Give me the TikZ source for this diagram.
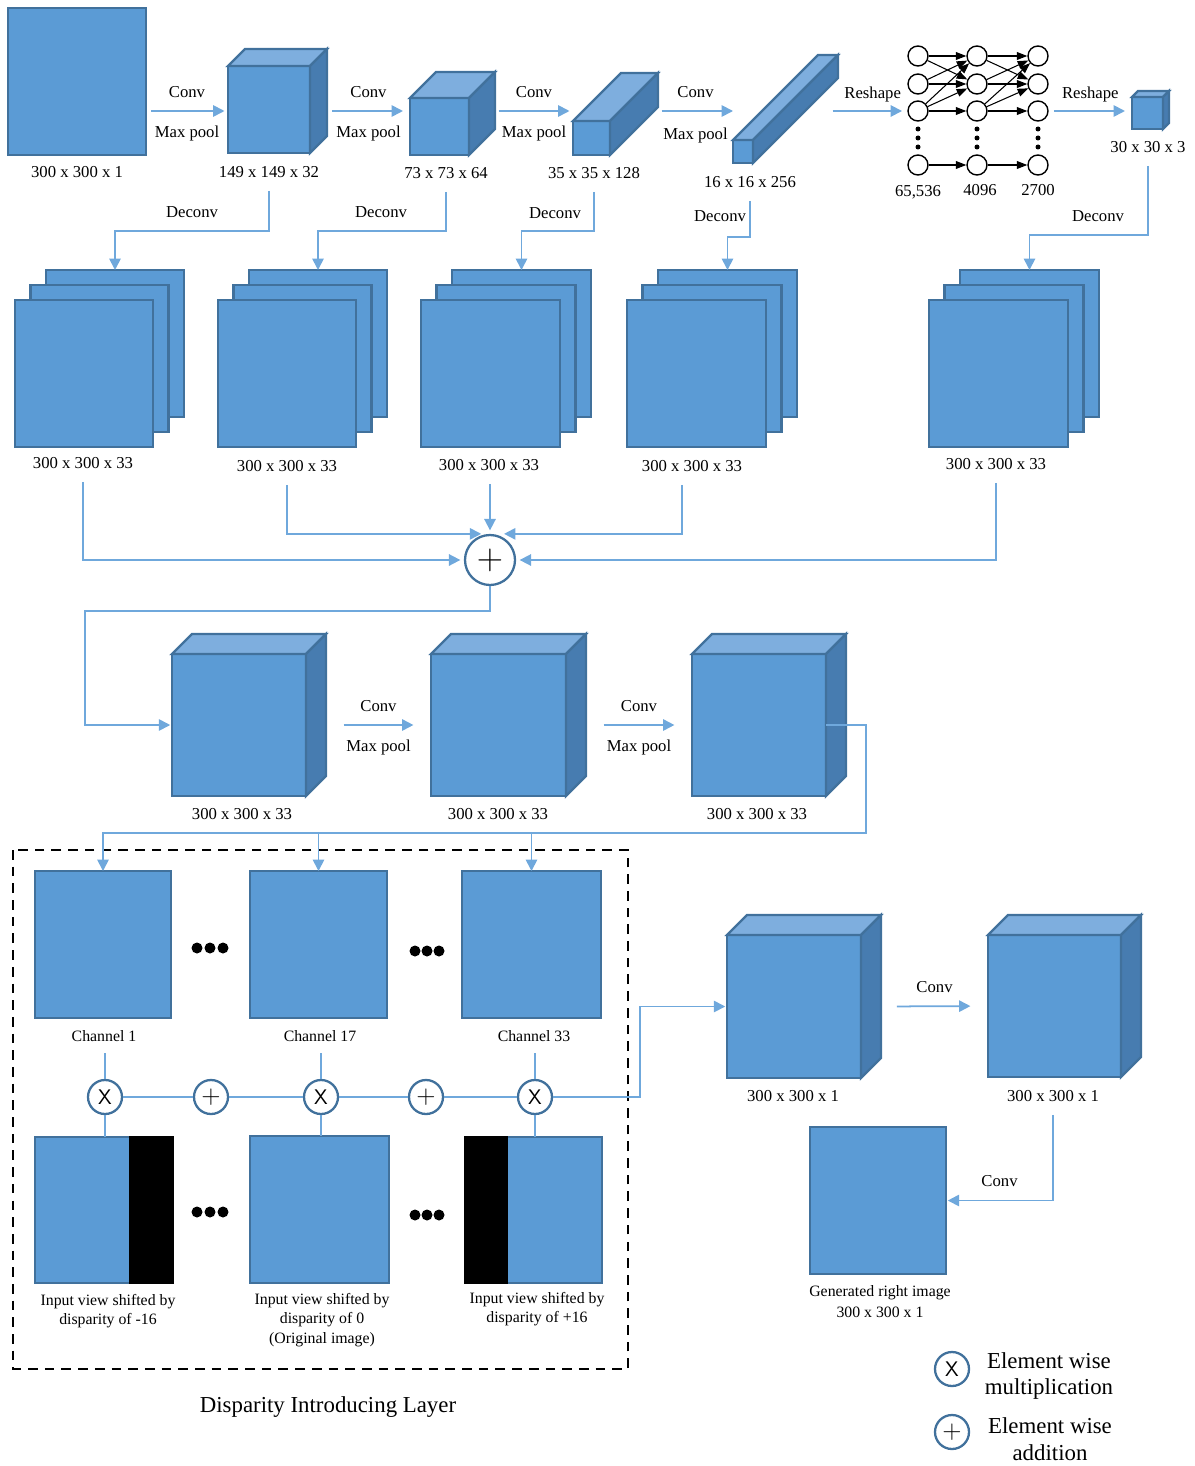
\documentclass[tikz,border=0pt]{standalone}
\usepackage{fontspec}
\setmainfont{Liberation Serif}
\usetikzlibrary{arrows.meta}
\definecolor{fblue}{HTML}{5B9BD5}
\definecolor{eblue}{HTML}{41719C}
\definecolor{tblue}{HTML}{7EAEDE}
\definecolor{sblue}{HTML}{477CB0}
\definecolor{lblue}{HTML}{6FA8DC}
\newcommand{\netsquare}[5]{%
  \node[face, anchor=north west, minimum width=#4*0.02cm, minimum height=#5*0.02cm] (#1) at (#2,#3) {};}
\newcommand{\netcube}[6]{%
  \netsquare{#1}{#2}{#3}{#4}{#5}
  \filldraw[face, fill=tblue] (#1.north west) -- ++(#6,-#6) -- ++(#4,0) -- (#1.north east) -- cycle;
  \filldraw[face, fill=sblue] (#1.north east) -- ++(#6,-#6) -- ++(0,#5) -- (#1.south east) -- cycle;
  \path (#1.east) ++(#6,0) coordinate (#1-e);}
\newcommand{\netstack}[5]{%
  \netsquare{#1-back}{#2+31}{#3-30}{#4}{#5}
  \netsquare{#1-mid}{#2+15.5}{#3-15}{#4}{#5}
  \netsquare{#1}{#2}{#3}{#4}{#5}}
\begin{document}
\begin{tikzpicture}[x=0.02cm, y=-0.02cm]
        \tikzstyle{face} = [draw=eblue, fill=fblue, line width=1.3pt, inner sep=0pt, outer sep=0pt]
        \tikzstyle{bar} = [draw=black, fill=black, line width=1.3pt, inner sep=0pt, outer sep=0pt]
        \tikzstyle{conn} = [draw=lblue, line width=1pt, -{Triangle[length=6.5pt, width=6.5pt]}]
        \tikzstyle{cline} = [draw=lblue, line width=1pt]
        \tikzstyle{lbl} = [font=\fontsize{9.5}{11}\selectfont, align=center]
        \tikzstyle{lbls} = [font=\fontsize{9}{11}\selectfont, align=center]
        \tikzstyle{opnode} = [circle, draw=eblue, fill=white, line width=1.3pt, inner sep=0pt, minimum size=34*0.02cm, font=\fontsize{12}{12}\selectfont\sffamily]
        \tikzstyle{nnode} = [circle, draw=black, fill=white, line width=0.8pt, inner sep=0pt, minimum size=20*0.02cm]
        \tikzstyle{nnarrow} = [draw=black, line width=0.6pt, -{Triangle[length=6pt, width=4.5pt]}]
        \useasboundingbox (0,0) rectangle (1195,1466);

        \netsquare{inimg}{8}{8}{138}{147}
        \node[lbl] (linimg) at (77,172) {300 x 300 x 1};
        \netcube{c1}{228}{66}{82}{87}{17}
        \node[lbl] (lc1) at (269,172) {149 x 149 x 32};
        \netcube{c2}{410}{98}{59}{57}{26}
        \node[lbl] (lc2) at (446,173) {73 x 73 x 64};
        \netcube{c3}{573}{121}{37}{34}{48}
        \node[lbl] (lc3) at (594,173) {35 x 35 x 128};
        \netcube{c4}{733}{140}{20}{23}{85}
        \node[lbl] (lc4) at (750,182) {16 x 16 x 256};
        \netcube{sc}{1132}{97}{31}{32}{6}
        \node[lbl] (lsc) at (1148,147) {30 x 30 x 3};

        \coordinate (r1) at (0,111);
        \draw[conn, shorten <=3pt, shorten >=2pt] (inimg.east |- r1) -- node[lbl, above=4pt] {Conv} node[lbl, below=4.5pt] {Max pool} (c1.west |- r1);
        \draw[conn, shorten <=3pt, shorten >=4pt] (c1-e |- r1) -- node[lbl, above=4pt] {Conv} node[lbl, below=4.5pt] {Max pool} (c2.west |- r1);
        \draw[conn, shorten <=2pt, shorten >=2pt] (c2-e |- r1) -- node[lbl, above=4pt] {Conv} node[lbl, below=4.5pt] {Max pool} (c3.west |- r1);
        \draw[conn, shorten <=2pt] (c3-e |- r1) -- node[lbl, above=4pt] {Conv} node[lbl, below=6pt] {Max pool} (c4.west |- r1);

        \node[nnode] (n11) at (918,56) {};
        \node[nnode] (n12) at (918,84) {};
        \node[nnode] (n13) at (918,111) {};
        \node[nnode] (n14) at (918,165) {};
        \node[nnode] (n21) at (977,56) {};
        \node[nnode] (n22) at (977,84) {};
        \node[nnode] (n23) at (977,111) {};
        \node[nnode] (n24) at (977,165) {};
        \node[nnode] (n31) at (1038,56) {};
        \node[nnode] (n32) at (1038,84) {};
        \node[nnode] (n33) at (1038,111) {};
        \node[nnode] (n34) at (1038,165) {};
        \draw[nnarrow] (n11) -- (n21);
        \draw[nnarrow] (n11) -- (n22);
        \draw[nnarrow] (n12) -- (n21);
        \draw[nnarrow] (n12) -- (n22);
        \draw[nnarrow] (n13) -- (n21);
        \draw[nnarrow] (n13) -- (n22);
        \draw[nnarrow] (n13) -- (n23);
        \draw[nnarrow] (n14) -- (n24);
        \draw[nnarrow] (n21) -- (n31);
        \draw[nnarrow] (n21) -- (n32);
        \draw[nnarrow] (n22) -- (n31);
        \draw[nnarrow] (n22) -- (n32);
        \draw[nnarrow] (n23) -- (n31);
        \draw[nnarrow] (n23) -- (n32);
        \draw[nnarrow] (n23) -- (n33);
        \draw[nnarrow] (n24) -- (n34);
        \fill (918,129) circle (2.5) (918,138) circle (2.5) (918,147) circle (2.5);
        \fill (977,129) circle (2.5) (977,138) circle (2.5) (977,147) circle (2.5);
        \fill (1038,129) circle (2.5) (1038,138) circle (2.5) (1038,147) circle (2.5);
        \node[lbl] (ln1) at (918,192) {65,536};
        \node[lbl] (ln2) at (980,190) {4096};
        \node[lbl] (ln3) at (1038,190) {2700};
        \draw[conn, shorten <=-3pt, shorten >=3pt] (c4-e |- n13) -- node[lbl, above=1.5pt] {Reshape} (n13);
        \draw[conn, shorten <=3pt, shorten >=4pt] (n33) -- node[lbl, above=1.5pt] {Reshape} (sc.west |- n33);

        \netstack{s1}{15}{300}{138}{147}
        \node[lbl] (ls1) at (83,463) {300 x 300 x 33};
        \netstack{s2}{218}{300}{138}{147}
        \node[lbl] (ls2) at (287,466) {300 x 300 x 33};
        \netstack{s3}{421}{300}{139}{147}
        \node[lbl] (ls3) at (489,465) {300 x 300 x 33};
        \netstack{s4}{627}{300}{139}{147}
        \node[lbl] (ls4) at (692,466) {300 x 300 x 33};
        \netstack{s5}{929}{300}{139}{147}
        \node[lbl] (ls5) at (996,464) {300 x 300 x 33};

        \coordinate (b1) at (269,231);
        \coordinate (b2) at (446,231);
        \coordinate (b3) at (594,231);
        \coordinate (b4) at (750,237);
        \coordinate (b5) at (1148,235);
        \draw[conn, shorten <=4pt] (lc1.south) |- (b1) -| (s1-back.north);
        \draw[conn, shorten <=4pt] (lc2.south) |- (b2) -| (s2-back.north);
        \draw[conn, shorten <=4pt] (lc3.south) |- (b3) -| (s3-back.north);
        \draw[conn, shorten <=4pt] (lc4.south) |- (b4) -| (s4-back.north);
        \draw[conn, shorten <=4pt] (lsc.south) |- (b5) -| (s5-back.north);
        \node[lbl] (dl1) at (192,212) {Deconv};
        \node[lbl] (dl2) at (381,212) {Deconv};
        \node[lbl] (dl3) at (555,213) {Deconv};
        \node[lbl] (dl4) at (720,216) {Deconv};
        \node[lbl] (dl5) at (1098,216) {Deconv};

        \node[opnode, minimum size=50*0.02cm] (sum) at (490,560) {\fontsize{22}{22}\selectfont$+$};
        \draw[conn, shorten <=4pt, shorten >=2pt] (ls1.south) |- (sum.west);
        \draw[conn, shorten <=4pt, shorten >=5pt] (ls2.south) |- (sum.north);
        \draw[conn, shorten <=4pt, shorten >=2pt] (ls3.south -| sum.north) -- (sum.north);
        \draw[conn, shorten <=4pt, shorten >=8pt] ([xshift=-10*0.02cm]ls4.south) |- (sum.north);
        \draw[conn, shorten <=4pt, shorten >=2pt] (ls5.south) |- (sum.east);

        \netcube{cA}{172}{654}{134}{142}{20}
        \node[lbl] (lA) at (242,814) {300 x 300 x 33};
        \netcube{cB}{431}{654}{135}{142}{20}
        \node[lbl] (lB) at (498,814) {300 x 300 x 33};
        \netcube{cC}{692}{654}{134}{142}{20}
        \node[lbl] (lC) at (757,814) {300 x 300 x 33};
        \coordinate (k1) at (85,611);
        \draw[conn, shorten >=1pt] (sum.south) |- (k1) |- (cA.west);
        \draw[conn, shorten <=10pt, shorten >=10pt] (cA-e) -- node[lbl, above=4pt] {Conv} node[lbl, below=4.5pt] {Max pool} (cB.west);
        \draw[conn, shorten <=10pt, shorten >=10pt] (cB-e) -- node[lbl, above=4pt] {Conv} node[lbl, below=4.5pt] {Max pool} (cC.west);

        \draw[black, line width=1.4pt, dash pattern=on 5.5pt off 4pt] (13,850) rectangle (628,1369);
        \netsquare{ch1}{35}{871}{136}{147}
        \netsquare{ch17}{250}{871}{137}{147}
        \netsquare{ch33}{462}{871}{139}{147}
        \node[lbls] (lch1) at (104,1036) {Channel 1};
        \node[lbls] (lch17) at (320,1036) {Channel 17};
        \node[lbls] (lch33) at (534,1036) {Channel 33};
        \coordinate (k2) at (866,833);
        \draw[conn] (cC.east) -| (k2) -| (ch1.north);
        \draw[conn] (ch17.north |- k2) -- (ch17.north);
        \draw[conn] (ch33.north |- k2) -- (ch33.north);
        \fill (197,948) circle (5.5) (210,948) circle (5.5) (223,948) circle (5.5);
        \fill (415,951) circle (5.5) (427,951) circle (5.5) (439,951) circle (5.5);

        \netsquare{img1}{35}{1137}{138}{146}
        \node[bar, anchor=north east, minimum width=43*0.02cm, minimum height=146*0.02cm] (bar1) at (img1.north east) {};
        \netsquare{img2}{250}{1136}{139}{147}
        \netsquare{img3}{465}{1137}{137}{146}
        \node[bar, anchor=north west, minimum width=42*0.02cm, minimum height=146*0.02cm] (bar3) at (img3.north west) {};
        \fill (197,1212) circle (5.5) (210,1212) circle (5.5) (223,1212) circle (5.5);
        \fill (415,1215) circle (5.5) (427,1215) circle (5.5) (439,1215) circle (5.5);
        \node[lbls] (limg1) at (108,1311) {Input view shifted by\\disparity of -16};
        \node[lbls] (limg2) at (322,1320) {Input view shifted by\\disparity of 0\\(Original image)};
        \node[lbls] (limg3) at (537,1309) {Input view shifted by\\disparity of +16};

        \node[opnode] (m1) at (105,1097) {X};
        \node[opnode] (p1) at (211,1097) {\fontsize{15}{15}\selectfont$+$};
        \node[opnode] (m17) at (321,1097) {X};
        \node[opnode] (p2) at (426,1097) {\fontsize{15}{15}\selectfont$+$};
        \node[opnode] (m33) at (535,1097) {X};
        \draw[cline, shorten <=3pt] (lch1.south -| m1.north) -- (m1.north);
        \draw[cline, shorten <=3pt] (lch17.south -| m17.north) -- (m17.north);
        \draw[cline, shorten <=3pt] (lch33.south -| m33.north) -- (m33.north);
        \draw[cline] (m1.south) -- (m1.south |- img1.north);
        \draw[cline] (m17.south) -- (m17.south |- img2.north);
        \draw[cline] (m33.south) -- (m33.south |- img3.north);
        \draw[cline] (m1) -- (p1) -- (m17) -- (p2) -- (m33);
        \node[font=\fontsize{13}{15}\selectfont] (ttl) at (328,1407) {Disparity Introducing Layer};

        \netcube{cD}{727}{935}{134}{143}{20}
        \node[lbl] (lD) at (793,1096) {300 x 300 x 1};
        \netcube{cE}{988}{935}{133}{142}{20}
        \node[lbl] (lE) at (1053,1096) {300 x 300 x 1};
        \coordinate (k3) at (640,1008);
        \draw[conn, shorten >=1pt] (m33.east) -| (k3) |- (cD.west);
        \draw[conn, shorten <=9pt, shorten >=10pt] (cD-e) -- node[lbl, above=4pt] {Conv} (cE.west);
        \netsquare{gen}{810}{1127}{136}{147}
        \node[lbl, font=\fontsize{9}{12}\selectfont] (lgen) at (880,1302) {Generated right image\\300 x 300 x 1};
        \draw[conn, shorten <=4pt, shorten >=1pt] (lE.south) |- node[lbl, pos=0.75, above=4pt] {Conv} (gen.east);

        \node[opnode] (legm) at (952,1369) {X};
        \node[font=\fontsize{13}{15}\selectfont, align=center] (legmt) at (1049,1376) {Element wise\\multiplication};
        \node[opnode] (lega) at (952,1432) {\fontsize{15}{15}\selectfont$+$};
        \node[font=\fontsize{13}{15}\selectfont, align=center] (legat) at (1050,1439) {Element wise\\addition};
      \end{tikzpicture}
\end{document}
